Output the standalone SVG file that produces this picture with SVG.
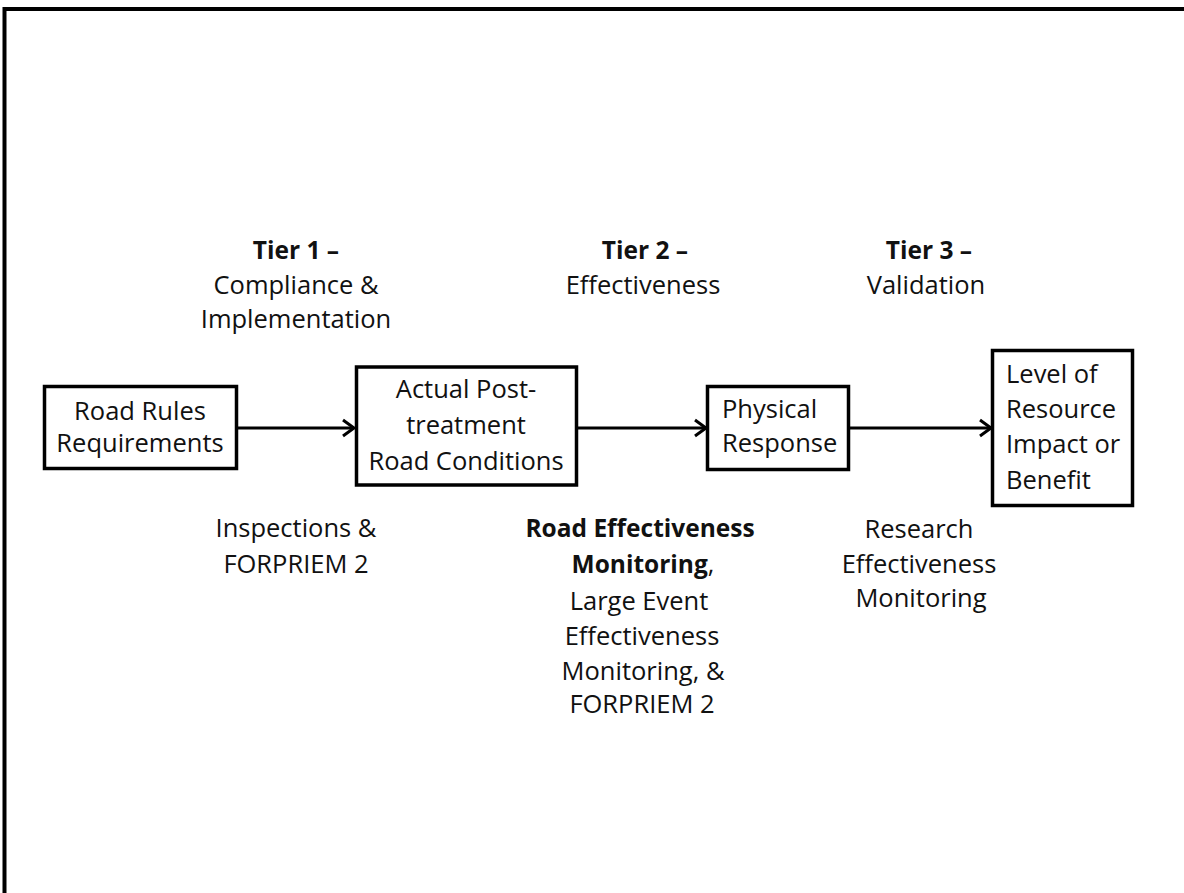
<svg xmlns="http://www.w3.org/2000/svg" width="1184" height="893" viewBox="0 0 1184 893">
<defs>
<marker id="arr" markerUnits="userSpaceOnUse" markerWidth="16" markerHeight="20" refX="13" refY="10" orient="auto">
<path d="M2,2 L13,10 L2,18" fill="none" stroke="#000" stroke-width="3"/>
</marker>
<style>
.box{fill:#fff;stroke:#000;stroke-width:3.5}
.t{font-family:"Open Sans",Lato,sans-serif;font-size:25.5px;fill:#111}
.c{text-anchor:middle}
.b{font-weight:bold;font-size:24.5px}
.edge{stroke:#000;stroke-width:3;fill:none}
</style>
</defs>
<rect x="0" y="0" width="1184" height="893" fill="#fff"/>
<rect x="4.5" y="9" width="1200" height="900" fill="none" stroke="#000" stroke-width="4"/>

<g id="connectors">
<line class="edge" x1="238" y1="428" x2="354" y2="428" marker-end="url(#arr)"/>
<line class="edge" x1="578" y1="428" x2="706" y2="428" marker-end="url(#arr)"/>
<line class="edge" x1="849" y1="428" x2="991" y2="428" marker-end="url(#arr)"/>
</g>

<g id="road-rules">
<rect class="box" x="44.5" y="386.5" width="192" height="82"/>
<text class="t c" x="140" y="420">Road Rules</text>
<text class="t c" x="140" y="452">Requirements</text>
</g>

<g id="actual-post">
<rect class="box" x="356.5" y="367" width="220" height="118"/>
<text class="t c" x="466" y="398">Actual Post-</text>
<text class="t c" x="466" y="434">treatment</text>
<text class="t c" x="466" y="470">Road Conditions</text>
</g>

<g id="physical-response">
<rect class="box" x="707.5" y="386.5" width="141" height="83"/>
<text class="t" x="722" y="418">Physical</text>
<text class="t" x="722" y="452">Response</text>
</g>

<g id="level-of-resource">
<rect class="box" x="992.5" y="350.5" width="140" height="155"/>
<text class="t" x="1006" y="383">Level of</text>
<text class="t" x="1006" y="418">Resource</text>
<text class="t" x="1006" y="453">Impact or</text>
<text class="t" x="1006" y="489">Benefit</text>
</g>

<g id="tier1">
<text class="t c b" x="296" y="259">Tier 1 –</text>
<text class="t c" x="296" y="294">Compliance &amp;</text>
<text class="t c" x="296" y="328">Implementation</text>
</g>

<g id="tier2">
<text class="t c b" x="645" y="259">Tier 2 –</text>
<text class="t c" x="643" y="294">Effectiveness</text>
</g>

<g id="tier3">
<text class="t c b" x="929" y="259">Tier 3 –</text>
<text class="t c" x="926" y="294">Validation</text>
</g>

<g id="inspections">
<text class="t c" x="296" y="537">Inspections &amp;</text>
<text class="t c" x="296" y="573">FORPRIEM 2</text>
</g>

<g id="road-effectiveness">
<text class="t c b" x="640" y="537">Road Effectiveness</text>
<text class="t c" x="643" y="573"><tspan class="b">Monitoring</tspan>,</text>
<text class="t c" x="639" y="610">Large Event</text>
<text class="t c" x="642" y="645">Effectiveness</text>
<text class="t c" x="643" y="680">Monitoring, &amp;</text>
<text class="t c" x="642" y="713">FORPRIEM 2</text>
</g>

<g id="research">
<text class="t c" x="919" y="538">Research</text>
<text class="t c" x="919" y="573">Effectiveness</text>
<text class="t c" x="921" y="607">Monitoring</text>
</g>
</svg>
